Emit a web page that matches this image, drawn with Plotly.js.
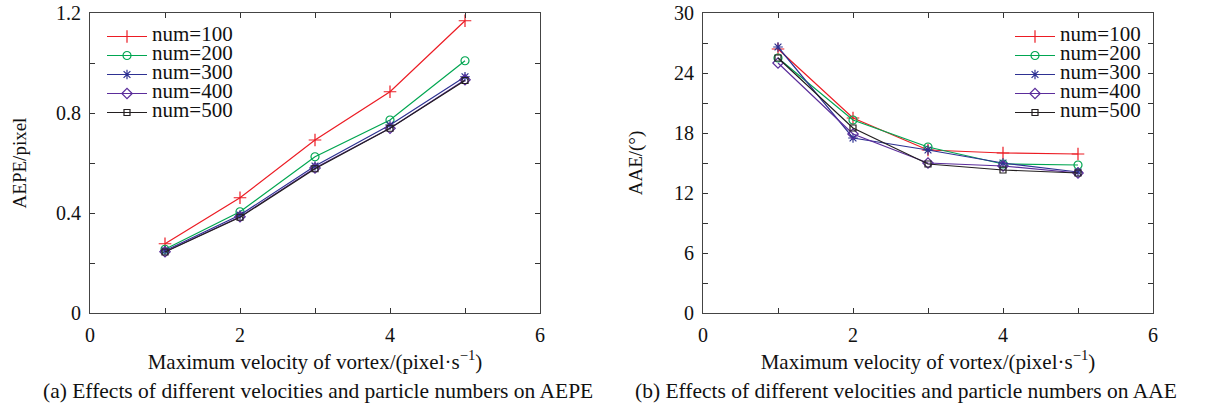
<!DOCTYPE html>
<html>
<head>
<meta charset="utf-8">
<script src="https://cdn.plot.ly/plotly-3.0.1.min.js"></script>
<style>html,body{margin:0;padding:0;background:#fff;}#chart{width:1207px;height:406px;}</style>
</head>
<body>
<div id="chart"></div>
<script>
// ---- data ----
const velocity = [1, 2, 3, 4, 5];
const seriesNames = ['num=100', 'num=200', 'num=300', 'num=400', 'num=500'];
const aepe100 = [0.277, 0.461, 0.692, 0.885, 1.169];
const aepe200 = [0.255, 0.405, 0.625, 0.772, 1.009];
const aepe300 = [0.249, 0.392, 0.588, 0.752, 0.945];
const aepe400 = [0.245, 0.385, 0.580, 0.739, 0.933];
const aepe500 = [0.244, 0.383, 0.577, 0.739, 0.930];
const aae100 = [26.4, 19.5, 16.3, 16.0, 15.9];
const aae200 = [25.5, 19.3, 16.6, 14.9, 14.8];
const aae300 = [26.6, 17.5, 16.3, 15.0, 14.1];
const aae400 = [25.0, 17.9, 15.0, 14.7, 14.0];
const aae500 = [25.5, 18.5, 14.9, 14.3, 14.0];
const xTickVals = [0, 1, 2, 3, 4, 5, 6];
const xTickText = ['0', '', '2', '', '4', '', '6'];
const aepeTickVals = [0, 0.2, 0.4, 0.6, 0.8, 1.0, 1.2];
const aepeTickText = ['0', '', '0.4', '', '0.8', '', '1.2'];
const aaeTickVals = [0, 3, 6, 9, 12, 15, 18, 21, 24, 27, 30];
const aaeTickText = ['0', '', '6', '', '12', '', '18', '', '24', '', '30'];
const xTitle = 'Maximum velocity of vortex/(pixel·s<sup>−1</sup>)';
const captionA = '(a) Effects of different velocities and particle numbers on AEPE';
const captionB = '(b) Effects of different velocities and particle numbers on AAE';

// ---- styles ----
const colors = ['#ec1c24', '#00a651', '#2e3192', '#5b2d9b', '#231f20'];
const symbols = ['cross-thin-open', 'circle-open', 'asterisk-open', 'diamond-open', 'square-open'];
const sizes = [9, 8, 8, 8, 6];
const FONT = '"Liberation Serif", "Times New Roman", serif';

const aepe = [aepe100, aepe200, aepe300, aepe400, aepe500];
const aae = [aae100, aae200, aae300, aae400, aae500];

const traces = [];
function addSet(data, xa, ya, leg) {
  data.forEach((vals, i) => {
    traces.push({
      x: velocity, y: vals, xaxis: xa, yaxis: ya, legend: leg,
      type: 'scatter', mode: 'lines+markers',
      name: '<span style="font-size:21px">' + seriesNames[i] + '</span>',
      line: {color: colors[i], width: 1.2},
      marker: {symbol: symbols[i], size: sizes[i], color: colors[i], line: {color: colors[i], width: 1.2}}
    });
  });
}
addSet(aepe, 'x', 'y', 'legend');
addSet(aae, 'x2', 'y2', 'legend2');

const axisCommon = {
  ticks: 'inside', ticklen: 5, tickwidth: 1, tickcolor: '#333',
  showline: true, linecolor: '#444', linewidth: 1, mirror: 'ticks',
  showgrid: false, zeroline: false, tickmode: 'array',
  tickfont: {family: FONT, size: 20, color: '#111'}
};
const yDom = [93 / 406, 393 / 406];

const layout = {
  width: 1207, height: 406,
  margin: {l: 0, r: 0, t: 0, b: 0},
  paper_bgcolor: '#fff', plot_bgcolor: '#fff',
  font: {family: FONT, color: '#111'},
  xaxis: Object.assign({}, axisCommon, {
    domain: [90 / 1207, 540 / 1207], range: [0, 6], anchor: 'y',
    tickvals: xTickVals, ticktext: xTickText, ticklabelstandoff: 4,
    title: {text: xTitle, font: {family: FONT, size: 21}, standoff: 9}
  }),
  yaxis: Object.assign({}, axisCommon, {
    domain: yDom, range: [0, 1.2], anchor: 'x',
    tickvals: aepeTickVals, ticktext: aepeTickText, ticklabelstandoff: 4,
    title: {text: 'AEPE/pixel', font: {family: FONT, size: 19}, standoff: 24}
  }),
  xaxis2: Object.assign({}, axisCommon, {
    domain: [703 / 1207, 1153 / 1207], range: [0, 6], anchor: 'y2',
    tickvals: xTickVals, ticktext: xTickText, ticklabelstandoff: 4,
    title: {text: xTitle, font: {family: FONT, size: 21}, standoff: 9}
  }),
  yaxis2: Object.assign({}, axisCommon, {
    domain: yDom, range: [0, 30], anchor: 'x2',
    tickvals: aaeTickVals, ticktext: aaeTickText, ticklabelstandoff: 4,
    title: {text: 'AAE/(°)', font: {family: FONT, size: 19}, standoff: 26}
  }),
  legend: {
    x: 102 / 1207, y: 1 - 22 / 406, xanchor: 'left', yanchor: 'top',
    bgcolor: 'rgba(0,0,0,0)', borderwidth: 0, itemwidth: 40,
    font: {family: FONT, size: 12, color: '#111'}, tracegroupgap: 0
  },
  legend2: {
    x: 1010 / 1207, y: 1 - 22 / 406, xanchor: 'left', yanchor: 'top',
    bgcolor: 'rgba(0,0,0,0)', borderwidth: 0, itemwidth: 40,
    font: {family: FONT, size: 12, color: '#111'}, tracegroupgap: 0
  },
  annotations: [
    {text: captionA, xref: 'paper', yref: 'paper', x: 318 / 1207, y: 1 - 391 / 406,
     showarrow: false, xanchor: 'center', yanchor: 'middle', font: {family: FONT, size: 21.5, color: '#111'}},
    {text: captionB, xref: 'paper', yref: 'paper', x: 906 / 1207, y: 1 - 391 / 406,
     showarrow: false, xanchor: 'center', yanchor: 'middle', font: {family: FONT, size: 21.5, color: '#111'}}
  ],
  showlegend: true
};

Plotly.newPlot('chart', traces, layout, {displayModeBar: false, staticPlot: true});
</script>
</body>
</html>
